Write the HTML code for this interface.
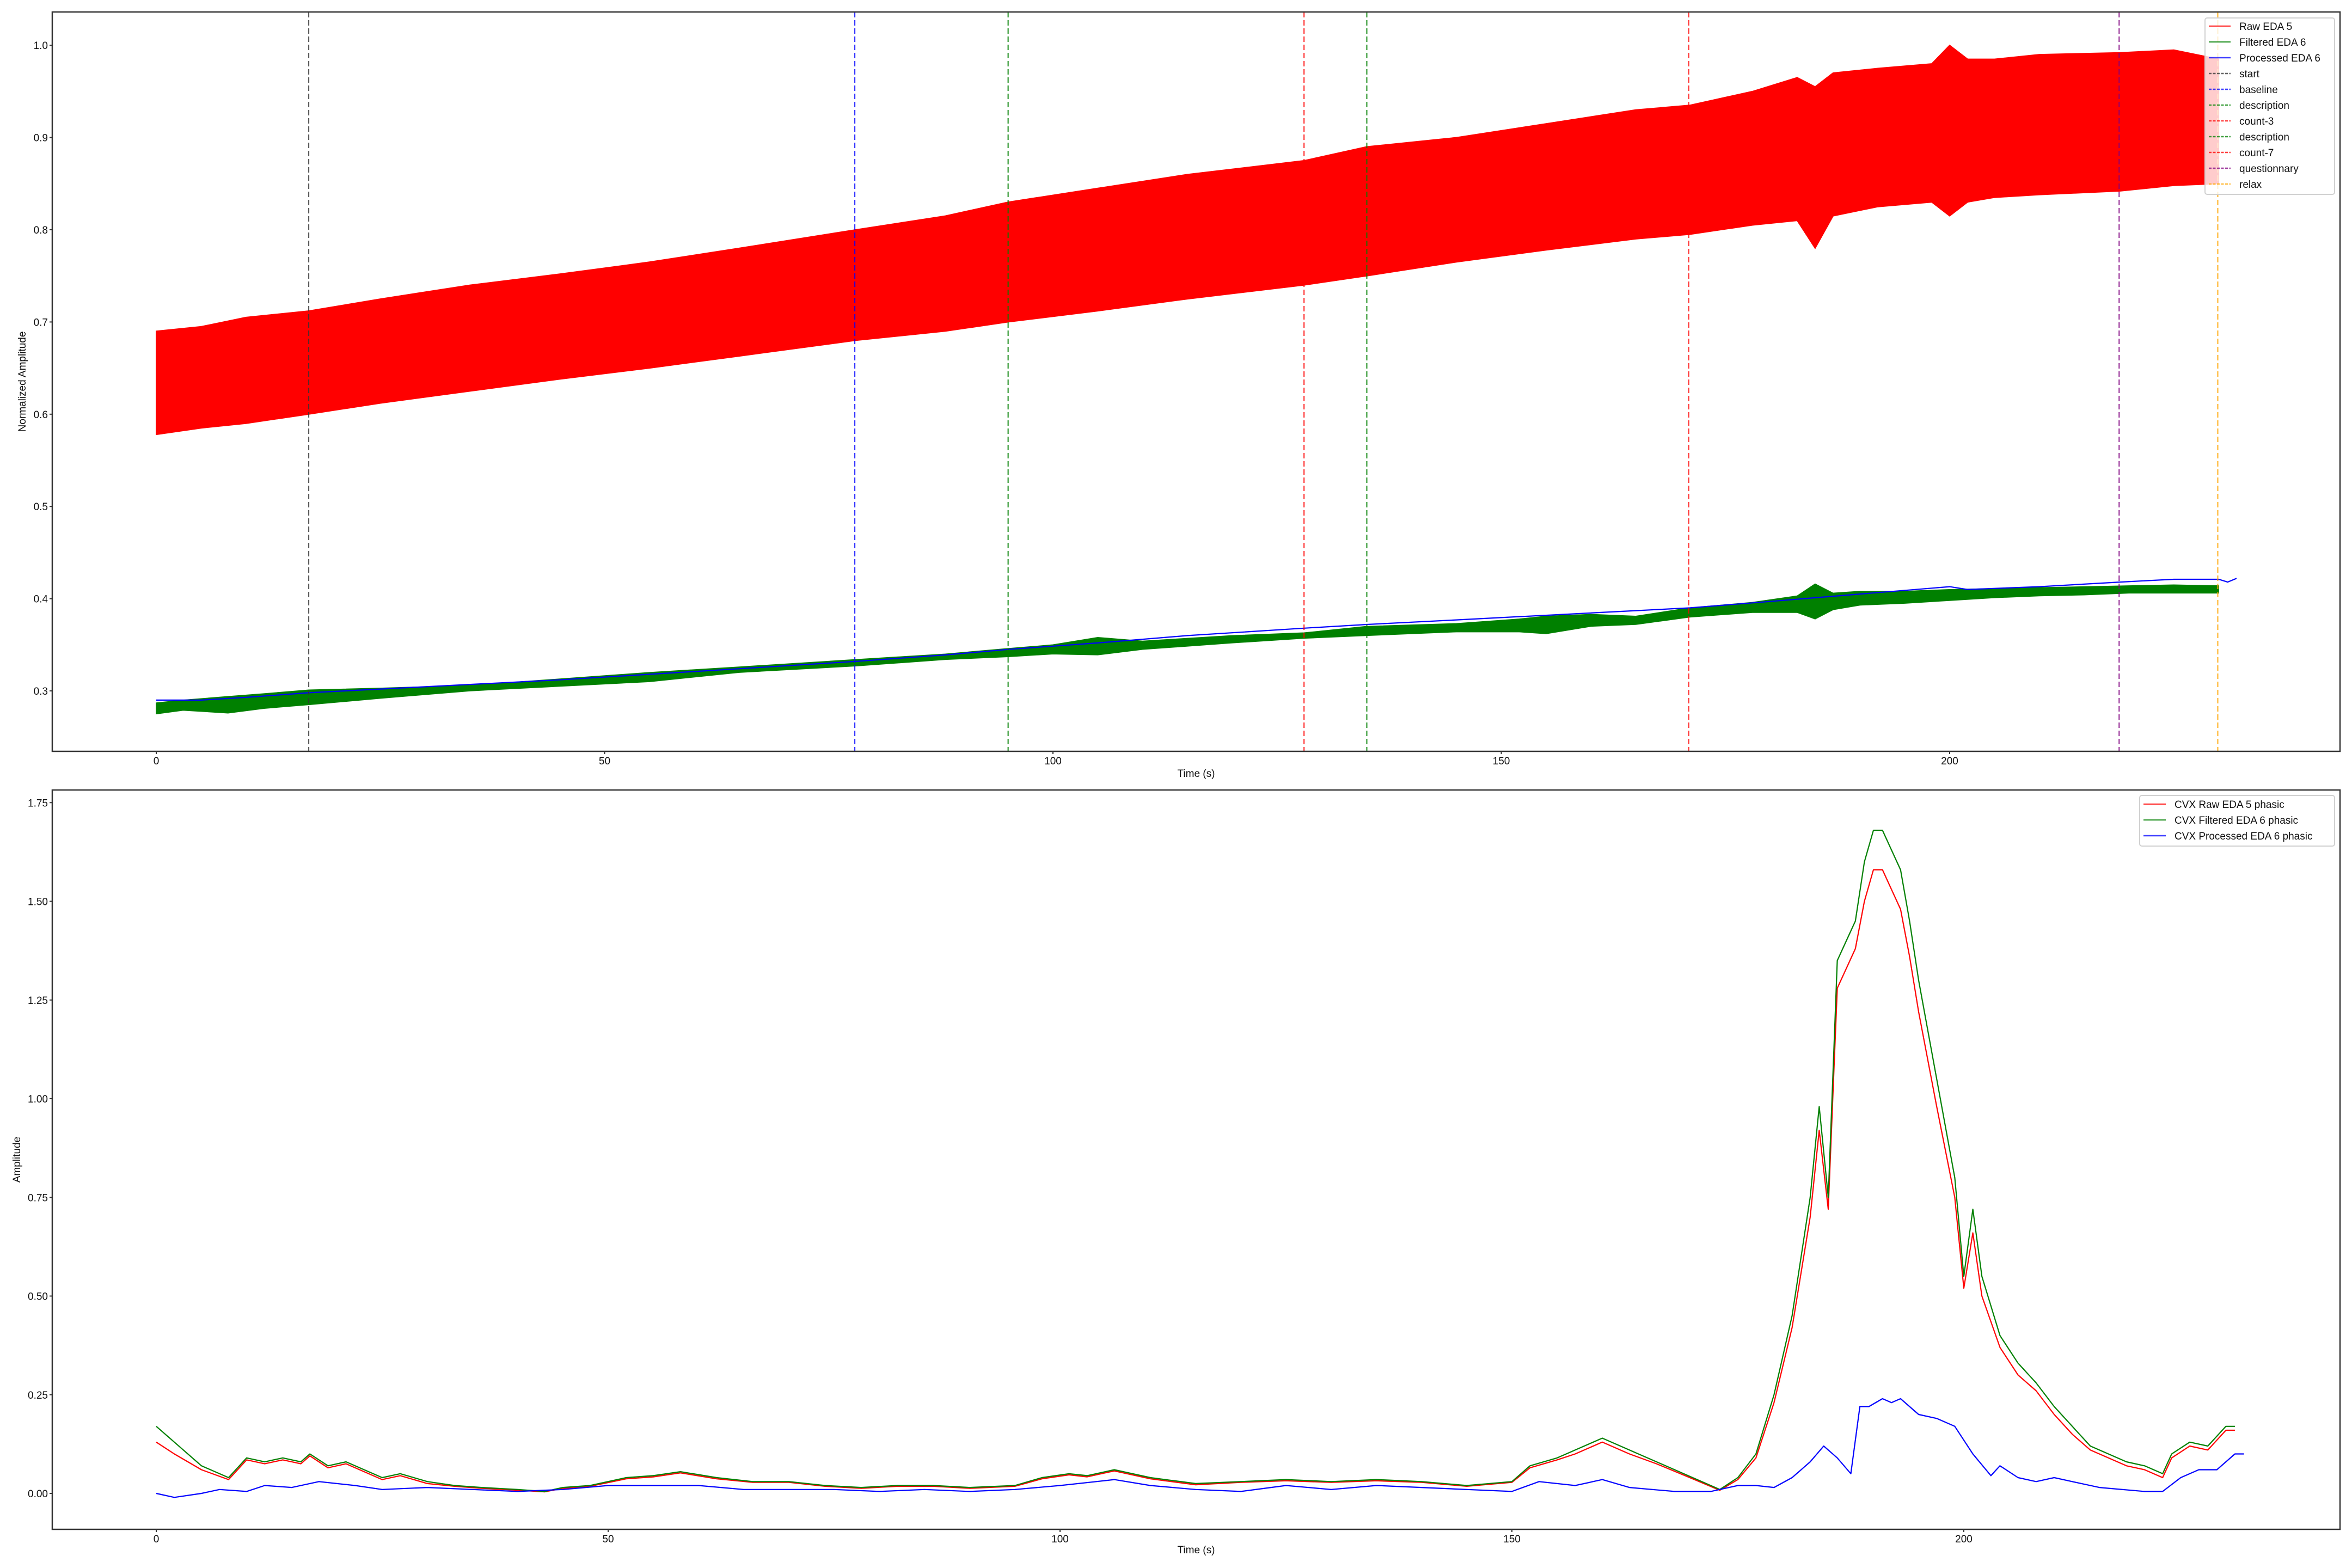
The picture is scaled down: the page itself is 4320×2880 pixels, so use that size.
<!DOCTYPE html>
<html><head><meta charset="utf-8"><style>
body{margin:0;background:#fff}
svg{display:block;font-family:"Liberation Sans","DejaVu Sans",sans-serif}
</style></head><body>
<svg id="fig" width="4320" height="2880" viewBox="0 0 4320 2880" xmlns="http://www.w3.org/2000/svg"></svg>
<script>
// ---------- Top chart data ----------
const rawT     = [0,5,10,17,25,35,45,55,65,78,88,95,105,115,128,135,145,155,165,171,178,183,185,187,192,198,200,202,205,210,219,225,230];
const rawLow   = [0.578,0.585,0.59,0.600,0.612,0.625,0.638,0.650,0.663,0.680,0.690,0.700,0.712,0.725,0.740,0.750,0.765,0.778,0.790,0.795,0.805,0.810,0.780,0.815,0.825,0.830,0.815,0.830,0.835,0.838,0.842,0.848,0.850];
const rawHigh  = [0.690,0.695,0.705,0.712,0.725,0.740,0.752,0.765,0.780,0.800,0.815,0.830,0.845,0.860,0.875,0.890,0.900,0.915,0.930,0.935,0.950,0.965,0.955,0.970,0.975,0.980,1.000,0.985,0.985,0.990,0.992,0.995,0.985];
const filtT    = [0,3,8,12,17,25,35,45,55,65,78,88,95,100,105,110,120,128,135,145,152,155,160,165,171,178,183,185,187,190,195,200,205,210,215,220,225,230];
const filtLow  = [0.275,0.279,0.276,0.281,0.285,0.292,0.300,0.305,0.310,0.320,0.327,0.334,0.337,0.340,0.339,0.345,0.352,0.357,0.360,0.364,0.364,0.362,0.370,0.372,0.380,0.385,0.385,0.378,0.388,0.393,0.395,0.398,0.401,0.403,0.404,0.406,0.406,0.406];
const filtHigh = [0.287,0.290,0.294,0.297,0.301,0.303,0.306,0.313,0.320,0.326,0.334,0.340,0.346,0.350,0.358,0.354,0.360,0.363,0.370,0.373,0.378,0.381,0.383,0.381,0.390,0.396,0.403,0.416,0.406,0.408,0.408,0.410,0.411,0.412,0.413,0.414,0.415,0.414];
const procT    = [0,5,10,17,25,35,45,55,65,78,88,95,105,115,128,135,145,155,165,171,180,190,200,202,210,219,225,230,231,232];
const procV    = [0.290,0.290,0.293,0.298,0.302,0.307,0.312,0.318,0.324,0.332,0.339,0.345,0.352,0.360,0.368,0.372,0.377,0.382,0.387,0.390,0.397,0.405,0.413,0.410,0.413,0.418,0.421,0.421,0.418,0.422];
const eventT      = [17.0,77.9,95.0,128.0,135.0,170.9,218.9,229.9];
const eventLabels = ["start","baseline","description","count-3","description","count-7","questionnary","relax"];
const eventColors = ["#333","#0000ff","#008000","#ff0000","#008000","#ff0000","#800080","#ffa500"];
const topXTicks = [0,50,100,150,200];
const topYTicks = [0.3,0.4,0.5,0.6,0.7,0.8,0.9,1.0];
// ---------- Bottom chart data ----------
const phT  = [0,2,5,8,10,12,14,16,17,19,21,23,25,27,30,33,36,40,43,45,48,52,55,58,62,66,70,74,78,82,86,90,95,98,101,103,106,110,115,120,125,130,135,140,145,150,152,155,157,160,163,166,170,173,175,177,179,181,183,184,185,186,187,188,189,190,191,192,193,194,195,197,199,200,201,202,204,206,208,210,212,214,216,218,220,222,223,225,227,229,230];
const phG  = [0.17,0.13,0.07,0.04,0.09,0.08,0.09,0.08,0.10,0.07,0.08,0.06,0.04,0.05,0.03,0.02,0.015,0.01,0.005,0.015,0.02,0.04,0.045,0.055,0.04,0.03,0.03,0.02,0.015,0.02,0.02,0.015,0.02,0.04,0.05,0.045,0.06,0.04,0.025,0.03,0.035,0.03,0.035,0.03,0.02,0.03,0.07,0.09,0.11,0.14,0.11,0.08,0.04,0.01,0.04,0.10,0.25,0.45,0.75,0.98,0.75,1.35,1.40,1.45,1.60,1.68,1.68,1.63,1.58,1.45,1.30,1.05,0.80,0.55,0.72,0.55,0.40,0.33,0.28,0.22,0.17,0.12,0.10,0.08,0.07,0.05,0.10,0.13,0.12,0.17,0.17];
const phR  = [0.13,0.10,0.06,0.035,0.085,0.075,0.085,0.075,0.095,0.065,0.075,0.055,0.035,0.045,0.025,0.018,0.013,0.008,0.004,0.013,0.018,0.037,0.042,0.052,0.037,0.028,0.028,0.018,0.013,0.018,0.018,0.013,0.018,0.037,0.047,0.042,0.057,0.037,0.022,0.028,0.032,0.028,0.032,0.028,0.018,0.028,0.065,0.085,0.10,0.13,0.10,0.075,0.037,0.008,0.035,0.09,0.23,0.42,0.70,0.92,0.72,1.28,1.33,1.38,1.50,1.58,1.58,1.53,1.48,1.36,1.22,0.98,0.75,0.52,0.66,0.50,0.37,0.30,0.26,0.20,0.15,0.11,0.09,0.07,0.06,0.04,0.09,0.12,0.11,0.16,0.16];
const phBT = [0,2,5,7,10,12,15,18,22,25,30,35,40,45,50,55,60,65,70,75,80,85,90,95,100,104,106,110,115,120,125,130,135,140,145,150,153,157,160,163,168,172,175,177,179,181,183,184.5,186,187.5,188.5,189.5,191,192,193,195,197,199,201,203,204,206,208,210,212,215,220,222,224,226,228,230,231];
const phB  = [0,-0.01,0,0.01,0.005,0.02,0.015,0.03,0.02,0.01,0.015,0.01,0.005,0.01,0.02,0.02,0.02,0.01,0.01,0.01,0.005,0.01,0.005,0.01,0.02,0.03,0.035,0.02,0.01,0.005,0.02,0.01,0.02,0.015,0.01,0.005,0.03,0.02,0.035,0.015,0.005,0.005,0.02,0.02,0.015,0.04,0.08,0.12,0.09,0.05,0.22,0.22,0.24,0.23,0.24,0.20,0.19,0.17,0.10,0.045,0.07,0.04,0.03,0.04,0.03,0.015,0.005,0.005,0.04,0.06,0.06,0.10,0.10];
const botXTicks = [0,50,100,150,200];
const botYTicks = [0,0.25,0.5,0.75,1.0,1.25,1.5,1.75];

const NS="http://www.w3.org/2000/svg";
const svg=document.getElementById('fig');
function mk(tag,attrs,parent){const e=document.createElementNS(NS,tag);for(const k in attrs)e.setAttribute(k,attrs[k]);(parent||svg).appendChild(e);return e;}
const L=96,R=4298;
const tx=t=>287+t*16.47;
const ty=v=>1269-(v-0.3)*1694;
const bx=t=>287+t*16.6;
const by=v=>2743-v*725;

function pathOf(ts,vs,fx,fy){return ts.map((t,i)=>(i?'L':'M')+fx(t).toFixed(1)+','+fy(vs[i]).toFixed(1)).join('');}
function bandOf(ts,lo,hi,fx,fy){let d=ts.map((t,i)=>(i?'L':'M')+fx(t).toFixed(1)+','+fy(hi[i]).toFixed(1)).join('');for(let i=ts.length-1;i>=0;i--)d+='L'+fx(ts[i]).toFixed(1)+','+fy(lo[i]).toFixed(1);return d+'Z';}

// ---- top chart ----
const gTop=mk('g',{});


const rawBand=mk('path',{d:bandOf(rawT,rawLow,rawHigh,tx,ty),fill:'#ff0000',stroke:'#ff0000','stroke-width':2},gTop);


const filtBand=mk('path',{d:bandOf(filtT,filtLow,filtHigh,tx,ty),fill:'#008000',stroke:'#008000','stroke-width':1.5},gTop);


const procLine=mk('path',{d:pathOf(procT,procV,tx,ty),fill:'none',stroke:'#0000ff','stroke-width':2.2},gTop);


eventT.forEach((t,i)=>{
  const ln=mk('line',{x1:tx(t),x2:tx(t),y1:22,y2:1380,stroke:eventColors[i],'stroke-width':2.2,'stroke-dasharray':'10,5','stroke-opacity':0.8},gTop);
  
  
});
const topFrame=mk('rect',{x:L,y:22,width:R-L,height:1358,fill:'none',stroke:'#333','stroke-width':2.5},gTop);


topXTicks.forEach(t=>{
  mk('line',{x1:tx(t),x2:tx(t),y1:1380,y2:1385,stroke:'#333','stroke-width':2},gTop);
  const tl=mk('text',{x:tx(t),y:1404,'font-size':19,'text-anchor':'middle',fill:'#111'},gTop);tl.textContent=t;
  
  
});
topYTicks.forEach(v=>{
  mk('line',{x1:L-5,x2:L,y1:ty(v),y2:ty(v),stroke:'#333','stroke-width':2},gTop);
  const tl=mk('text',{x:L-8,y:ty(v)+7,'font-size':19,'text-anchor':'end',fill:'#111'},gTop);tl.textContent=v.toFixed(1);
  
  
});
const tXT=mk('text',{x:(L+R)/2,y:1427,'font-size':19,'text-anchor':'middle',fill:'#111'},gTop);tXT.textContent='Time (s)';


const tYT=mk('text',{x:0,y:0,'font-size':19,'text-anchor':'middle',fill:'#111',transform:'translate(47,701) rotate(-90)'},gTop);tYT.textContent='Normalized Amplitude';


const lgT=mk('g',{},gTop);


mk('rect',{x:4050,y:33,width:238,height:324,rx:4,fill:'rgba(255,255,255,0.8)',stroke:'#d0d0d0','stroke-width':2},lgT);
const legItems=[["Raw EDA 5","#ff0000",false],["Filtered EDA 6","#008000",false],["Processed EDA 6","#0000ff",false]].concat(eventLabels.map((l,i)=>[l,eventColors[i],true]));
legItems.forEach((it,i)=>{
  const y=48+i*29;
  mk('line',{x1:4057,x2:4097,y1:y,y2:y,stroke:it[1],'stroke-width':2.5,'stroke-opacity':0.75,'stroke-dasharray':it[2]?'5,2.5':'none'},lgT);
  const tt=mk('text',{x:4113,y:y+7,'font-size':19,fill:'#111'},lgT);tt.textContent=it[0];
  
  
});

// ---- bottom chart ----
const gBot=mk('g',{});


const pR=mk('path',{d:pathOf(phT,phR,bx,by),fill:'none',stroke:'#ff0000','stroke-width':2.2,'stroke-linejoin':'round'},gBot);


const pG=mk('path',{d:pathOf(phT,phG,bx,by),fill:'none',stroke:'#008000','stroke-width':2.2,'stroke-linejoin':'round'},gBot);


const pB=mk('path',{d:pathOf(phBT,phB,bx,by),fill:'none',stroke:'#0000ff','stroke-width':2.2,'stroke-linejoin':'round'},gBot);


const botFrame=mk('rect',{x:L,y:1451,width:R-L,height:1358,fill:'none',stroke:'#333','stroke-width':2.5},gBot);


botXTicks.forEach(t=>{
  mk('line',{x1:bx(t),x2:bx(t),y1:2809,y2:2814,stroke:'#333','stroke-width':2},gBot);
  const tl=mk('text',{x:bx(t),y:2833,'font-size':19,'text-anchor':'middle',fill:'#111'},gBot);tl.textContent=t;
  
  
});
botYTicks.forEach(v=>{
  mk('line',{x1:L-5,x2:L,y1:by(v),y2:by(v),stroke:'#333','stroke-width':2},gBot);
  const tl=mk('text',{x:L-8,y:by(v)+7,'font-size':19,'text-anchor':'end',fill:'#111'},gBot);tl.textContent=v.toFixed(2);
  
  
});
const bXT=mk('text',{x:(L+R)/2,y:2853,'font-size':19,'text-anchor':'middle',fill:'#111'},gBot);bXT.textContent='Time (s)';


const bYT=mk('text',{x:0,y:0,'font-size':19,'text-anchor':'middle',fill:'#111',transform:'translate(37,2130) rotate(-90)'},gBot);bYT.textContent='Amplitude';


const lgB=mk('g',{},gBot);


mk('rect',{x:3930,y:1461,width:358,height:93,rx:4,fill:'rgba(255,255,255,0.8)',stroke:'#d0d0d0','stroke-width':2},lgB);
[["CVX Raw EDA 5 phasic","#ff0000"],["CVX Filtered EDA 6 phasic","#008000"],["CVX Processed EDA 6 phasic","#0000ff"]].forEach((it,i)=>{
  const y=1477+i*29;
  mk('line',{x1:3937,x2:3978,y1:y,y2:y,stroke:it[1],'stroke-width':2.5,'stroke-opacity':0.75},lgB);
  const tt=mk('text',{x:3994,y:y+7,'font-size':19,fill:'#111'},lgB);tt.textContent=it[0];
  
  
});
</script>
</body></html>
